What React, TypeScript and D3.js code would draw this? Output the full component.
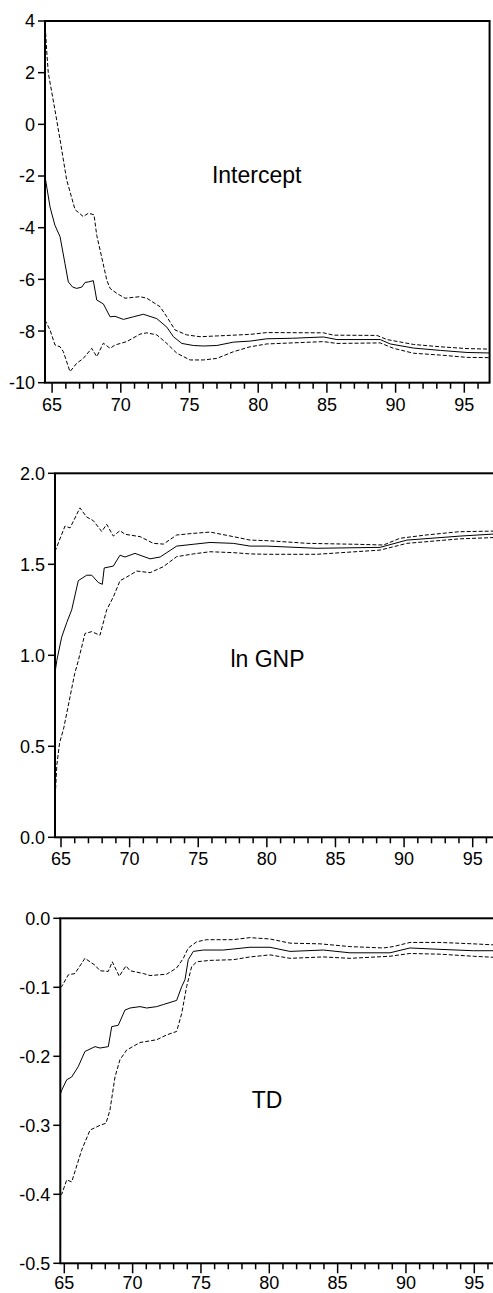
import React from 'react';
import * as d3 from 'd3';

// x axis: years (19xx)
const majorYears = [65, 70, 75, 80, 85, 90, 95];
const minorYears = d3.range(65, 97);

// y tick labels per panel
const interceptTicks = [4, 2, 0, -2, -4, -6, -8, -10];
const lnGnpTicks = [2.0, 1.5, 1.0, 0.5, 0.0];
const tdTicks = [0.0, -0.1, -0.2, -0.3, -0.4, -0.5];

type Pt = [number, number];

// Intercept: recursive estimate and +/- 2 S.E. bands
const interceptMid: Pt[] = [
  [64.48, -2.0], [64.85, -3.2], [65.2, -3.9], [65.58, -4.35], [65.94, -5.4], [66.18, -6.1],
  [66.5, -6.3], [66.79, -6.35], [67.16, -6.3], [67.4, -6.12], [67.64, -6.1], [68.0, -6.05],
  [68.25, -6.8], [68.73, -6.95], [69.22, -7.45], [69.58, -7.43], [70.19, -7.55], [70.91, -7.45],
  [71.64, -7.35], [72.62, -7.52], [73.35, -7.85], [73.83, -8.22], [74.44, -8.48], [75.28, -8.56],
  [76.0, -8.58], [76.99, -8.56], [78.2, -8.43], [79.41, -8.39], [80.63, -8.3], [82.5, -8.28],
  [84.75, -8.23], [85.73, -8.33], [88.88, -8.33], [89.61, -8.5], [91.31, -8.66], [93.25, -8.75],
  [95.2, -8.83], [96.84, -8.85],
];
const interceptHi: Pt[] = [
  [64.48, 4.0], [64.6, 2.9], [64.72, 2.0], [65.21, 0.55], [65.58, -0.6], [66.06, -2.15],
  [66.67, -3.3], [67.27, -3.57], [67.64, -3.44], [68.05, -3.5], [68.25, -4.3], [68.49, -4.86],
  [68.98, -6.03], [69.22, -6.35], [69.7, -6.54], [70.31, -6.73], [71.4, -6.67], [71.89, -6.73],
  [72.86, -7.06], [73.35, -7.45], [73.95, -7.96], [74.8, -8.15], [75.77, -8.22], [76.99, -8.19],
  [79.41, -8.13], [80.63, -8.06], [84.75, -8.07], [85.48, -8.16], [88.64, -8.17], [89.37, -8.33],
  [91.31, -8.52], [93.25, -8.61], [95.2, -8.68], [96.84, -8.7],
];
const interceptLo: Pt[] = [
  [64.48, -7.57], [64.85, -7.96], [65.21, -8.54], [65.58, -8.61], [65.82, -8.8], [66.3, -9.57],
  [66.79, -9.25], [67.27, -9.06], [67.88, -8.67], [68.25, -8.99], [68.73, -8.47], [69.22, -8.67],
  [69.58, -8.54], [70.43, -8.41], [71.4, -8.12], [71.89, -8.07], [72.62, -8.15], [73.35, -8.48],
  [74.08, -8.86], [75.04, -9.12], [76.01, -9.12], [76.99, -9.06], [78.2, -8.8], [79.41, -8.61],
  [80.63, -8.5], [84.75, -8.41], [85.73, -8.48], [88.88, -8.46], [89.85, -8.67], [91.31, -8.86],
  [93.25, -8.93], [95.2, -9.02], [96.84, -9.03],
];

// ln GNP
const lnGnpMid: Pt[] = [
  [64.56, 0.9], [64.69, 0.97], [65.05, 1.1], [65.42, 1.18], [65.78, 1.25], [66.26, 1.41],
  [66.87, 1.44], [67.24, 1.44], [67.72, 1.4], [68.01, 1.39], [68.15, 1.48], [68.81, 1.49],
  [69.3, 1.55], [69.66, 1.54], [70.39, 1.56], [71.49, 1.53], [72.22, 1.54], [73.43, 1.6],
  [74.64, 1.61], [75.86, 1.62], [77.56, 1.615], [78.78, 1.6], [79.99, 1.6], [83.64, 1.588],
  [88.25, 1.593], [90.2, 1.633], [94.08, 1.655], [96.9, 1.668],
];
const lnGnpHi: Pt[] = [
  [64.56, 1.57], [65.29, 1.71], [65.66, 1.7], [66.38, 1.81], [66.87, 1.76], [67.35, 1.74],
  [67.97, 1.68], [68.33, 1.72], [68.81, 1.655], [69.3, 1.685], [69.66, 1.665], [70.76, 1.652],
  [71.73, 1.615], [72.46, 1.611], [73.43, 1.661], [74.64, 1.67], [75.86, 1.677], [77.56, 1.652],
  [78.78, 1.633], [80.0, 1.63], [83.0, 1.615], [86.5, 1.61], [88.5, 1.606], [89.7, 1.643],
  [91.6, 1.661], [94.0, 1.679], [96.9, 1.683],
];
const lnGnpLo: Pt[] = [
  [64.56, 0.2], [64.7, 0.4], [64.9, 0.52], [65.2, 0.6], [65.6, 0.75], [66.0, 0.9],
  [66.26, 0.97], [66.75, 1.12], [67.24, 1.13], [67.84, 1.11], [68.33, 1.25], [68.81, 1.32],
  [69.3, 1.41], [69.79, 1.43], [70.52, 1.463], [71.49, 1.454], [72.46, 1.487], [73.43, 1.542],
  [74.64, 1.557], [75.86, 1.569], [77.56, 1.564], [78.78, 1.557], [80.0, 1.555], [83.64, 1.555],
  [88.25, 1.578], [90.2, 1.615], [94.08, 1.64], [96.9, 1.648],
];

// TD
const tdMid: Pt[] = [
  [64.71, -0.255], [64.81, -0.249], [65.18, -0.234], [65.54, -0.23], [66.02, -0.215], [66.51, -0.193],
  [67.25, -0.186], [67.61, -0.188], [68.22, -0.186], [68.47, -0.157], [68.95, -0.155], [69.44, -0.133],
  [69.81, -0.13], [70.54, -0.128], [71.03, -0.13], [71.76, -0.128], [72.24, -0.125], [73.22, -0.119],
  [73.59, -0.099], [73.83, -0.089], [74.07, -0.06], [74.44, -0.048], [75.17, -0.046], [76.63, -0.046],
  [78.58, -0.042], [80.05, -0.042], [81.51, -0.048], [83.95, -0.046], [85.9, -0.05], [88.83, -0.05],
  [90.29, -0.043], [92.49, -0.045], [94.92, -0.047], [96.9, -0.047],
];
const tdHi: Pt[] = [
  [64.71, -0.1], [64.81, -0.099], [65.29, -0.082], [65.78, -0.08], [66.51, -0.058], [67.25, -0.068],
  [67.61, -0.076], [68.22, -0.077], [68.51, -0.063], [69.02, -0.084], [69.51, -0.069], [69.81, -0.076],
  [70.78, -0.08], [71.27, -0.083], [72.49, -0.081], [73.22, -0.072], [73.71, -0.058], [74.07, -0.043],
  [74.69, -0.034], [75.42, -0.031], [77.36, -0.031], [78.58, -0.028], [80.05, -0.03], [81.51, -0.036],
  [83.71, -0.037], [85.9, -0.041], [88.34, -0.043], [89.07, -0.041], [90.29, -0.035], [92.49, -0.035],
  [94.92, -0.037], [96.9, -0.039],
];
const tdLo: Pt[] = [
  [64.71, -0.4], [64.81, -0.4], [65.18, -0.379], [65.54, -0.382], [66.27, -0.336], [66.88, -0.307],
  [67.61, -0.3], [68.05, -0.297], [68.34, -0.278], [68.71, -0.23], [69.07, -0.205], [69.56, -0.191],
  [70.54, -0.18], [71.76, -0.176], [72.49, -0.169], [73.22, -0.164], [73.59, -0.138], [73.95, -0.099],
  [74.32, -0.07], [74.69, -0.063], [75.66, -0.061], [77.36, -0.06], [78.58, -0.056], [80.05, -0.053],
  [81.51, -0.058], [83.95, -0.056], [85.9, -0.058], [88.83, -0.055], [90.29, -0.051], [92.49, -0.052],
  [94.92, -0.055], [96.9, -0.057],
];

const FONT = '"Liberation Sans", Arial, Helvetica, sans-serif';

type PanelCfg = {
  id: string;
  title: string;
  top: number;
  bottom: number;
  left: number;
  x65: number;
  x95: number;
  labelGap: number;
  yTicks: number[];
  digits: number;
  mid: Pt[];
  hi: Pt[];
  lo: Pt[];
  titleX: number;
  titleY: number;
};

const panels: PanelCfg[] = [
  {
    id: 'p1', title: 'Intercept', top: 21, bottom: 382.7, left: 45, x65: 52.1, x95: 464.3, labelGap: 28.5,
    yTicks: interceptTicks, digits: 0, mid: interceptMid, hi: interceptHi, lo: interceptLo,
    titleX: 256.7, titleY: 182.7,
  },
  {
    id: 'p2', title: 'ln GNP', top: 473.3, bottom: 837.3, left: 55, x65: 61, x95: 472.7, labelGap: 27.5,
    yTicks: lnGnpTicks, digits: 1, mid: lnGnpMid, hi: lnGnpHi, lo: lnGnpLo,
    titleX: 267.5, titleY: 666.7,
  },
  {
    // bottom labels sit right at the page edge, so keep them just inside
    id: 'p3', title: 'TD', top: 918.3, bottom: 1263.3, left: 60.3, x65: 64.3, x95: 474.3, labelGap: 25.6,
    yTicks: tdTicks, digits: 1, mid: tdMid, hi: tdHi, lo: tdLo,
    titleX: 267, titleY: 1108,
  },
];

function Panel({ cfg }: { cfg: PanelCfg }) {
  const x = d3.scaleLinear().domain([65, 95]).range([cfg.x65, cfg.x95]);
  const yMax = d3.max(cfg.yTicks) as number;
  const yMin = d3.min(cfg.yTicks) as number;
  const y = d3.scaleLinear().domain([yMin, yMax]).range([cfg.bottom, cfg.top]);
  // panels 2 and 3 run past the right edge of the page (their right border is cropped)
  const right = x(96.84);
  const line = d3.line<Pt>().x(d => x(d[0])).y(d => y(d[1]));

  return (
    <g>
      <defs>
        <clipPath id={`clip-${cfg.id}`}>
          <rect x={cfg.left} y={cfg.top} width={right - cfg.left} height={cfg.bottom - cfg.top} />
        </clipPath>
      </defs>
      <g clipPath={`url(#clip-${cfg.id})`} fill="none" stroke="#000" strokeWidth={1}>
        <path d={line(cfg.hi) || ''} strokeDasharray="4 2" />
        <path d={line(cfg.lo) || ''} strokeDasharray="4 2" />
        <path d={line(cfg.mid) || ''} />
      </g>
      <rect x={cfg.left} y={cfg.top} width={right - cfg.left} height={cfg.bottom - cfg.top}
        fill="none" stroke="#000" strokeWidth={2} />
      {cfg.yTicks.map(t => (
        <g key={t}>
          <line x1={cfg.left - 7} x2={cfg.left} y1={y(t)} y2={y(t)} stroke="#000" strokeWidth={1.5} />
          <text x={cfg.left - 10} y={y(t)} dy="0.36em" textAnchor="end" fontSize={18} fontFamily={FONT}>
            {t.toFixed(cfg.digits)}
          </text>
        </g>
      ))}
      {minorYears.filter(v => x(v) <= right).map(v => (
        <line key={v} x1={x(v)} x2={x(v)} y1={cfg.bottom}
          y2={cfg.bottom + (v % 5 === 0 ? 10 : 6)} stroke="#000" strokeWidth={1.5} />
      ))}
      {majorYears.map(v => (
        <text key={v} x={x(v)} y={cfg.bottom + cfg.labelGap} textAnchor="middle" fontSize={18} fontFamily={FONT}>
          {v}
        </text>
      ))}
      <text x={cfg.titleX} y={cfg.titleY} textAnchor="middle" fontSize={23} fontFamily={FONT}>
        {cfg.title}
      </text>
    </g>
  );
}

export default function App() {
  return (
    <svg width={493} height={1293} style={{ position: 'absolute', left: 0, top: 0, background: '#fff' }}>
      <rect width={493} height={1293} fill="#fff" />
      {panels.map(p => <Panel key={p.id} cfg={p} />)}
    </svg>
  );
}
